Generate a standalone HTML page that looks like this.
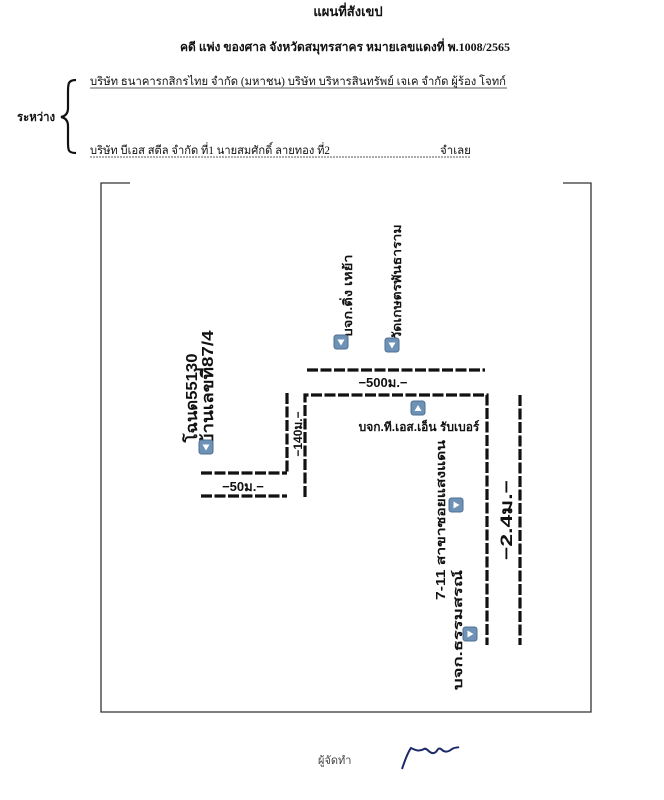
<!DOCTYPE html>
<html><head><meta charset="utf-8">
<style>
html,body{margin:0;padding:0;background:#fff;}
svg{display:block;}
.serif{font-family:"Liberation Serif","Noto Serif CJK SC","Noto Sans CJK SC",serif;}
.sans{font-family:"Liberation Sans","Noto Sans CJK SC",sans-serif;}
</style></head><body>
<svg width="664" height="800" viewBox="0 0 664 800" xmlns="http://www.w3.org/2000/svg">
<defs>
<g id="icD"><rect x="0" y="0" width="14" height="14" rx="2.5" fill="#6e92b6" stroke="#4d6f92" stroke-width="1"/><polygon points="3.5,4.5 10.5,4.5 7,10.5" fill="#fff"/></g>
<g id="icU"><rect x="0" y="0" width="14" height="14" rx="2.5" fill="#6e92b6" stroke="#4d6f92" stroke-width="1"/><polygon points="3.5,10 10.5,10 7,4" fill="#fff"/></g>
<g id="icR"><rect x="0" y="0" width="14" height="14" rx="2.5" fill="#6e92b6" stroke="#4d6f92" stroke-width="1"/><polygon points="4.5,3.5 4.5,10.5 10.5,7" fill="#fff"/></g>
</defs>
<g class="serif" font-weight="bold" fill="#111">
<text x="348" y="16" font-size="13" text-anchor="middle">แผนที่สังเขป</text>
<text x="180" y="51" font-size="12" textLength="330" lengthAdjust="spacing">คดี  แพ่ง  ของศาล  จังหวัดสมุทรสาคร  หมายเลขแดงที่ พ.1008/2565</text>
<text x="17" y="121" font-size="12" textLength="38" lengthAdjust="spacingAndGlyphs">ระหว่าง</text>
</g>
<g class="serif" fill="#111" font-size="11.5">
<text x="90" y="85" textLength="416" lengthAdjust="spacingAndGlyphs">บริษัท ธนาคารกสิกรไทย จำกัด (มหาชน) บริษัท บริหารสินทรัพย์ เจเค จำกัด ผู้ร้อง โจทก์</text>
<line x1="90" y1="88" x2="507" y2="88" stroke="#222" stroke-width="0.8"/>
<text x="90" y="154" textLength="240" lengthAdjust="spacingAndGlyphs">บริษัท บีเอส สตีล จำกัด ที่1 นายสมศักดิ์ ลายทอง ที่2</text>
<text x="440" y="154">จำเลย</text>
<line x1="90" y1="157" x2="470" y2="157" stroke="#222" stroke-width="0.8" stroke-dasharray="2,1"/>
</g>
<path d="M76,80 C68,80 68,84 68,92 L68,108 C68,113 66,116 61,117 C66,118 68,121 68,126 L68,142 C68,150 68,153 76,153" fill="none" stroke="#111" stroke-width="2.2"/>
<g stroke="#333" stroke-width="1.3" fill="none">
<polyline points="130,183 101,183 101,712 591,712 591,183 563,183"/>
</g>
<g stroke="#111" stroke-width="3.2" fill="none" stroke-dasharray="11,2.5">
<line x1="307" y1="370" x2="485" y2="370"/>
<polyline points="305,497 305,395 487,395 487,645"/>
<line x1="287" y1="393" x2="287" y2="473"/>
<line x1="201" y1="473" x2="287" y2="473"/>
<line x1="201" y1="496" x2="287" y2="496"/>
<line x1="520" y1="395" x2="520" y2="645"/>
</g>
<g class="sans" fill="#111" font-weight="bold">
<text x="383" y="387" font-size="13" text-anchor="middle">−500ม.−</text>
<text x="243" y="491" font-size="13" text-anchor="middle">−50ม.−</text>
<text transform="translate(302,434) rotate(-90)" font-size="12" text-anchor="middle">−140ม.−</text>
<text transform="translate(512,520) rotate(-90)" font-size="17" text-anchor="middle" textLength="80" lengthAdjust="spacingAndGlyphs">−2.4ม.−</text>
<text transform="translate(197,398) rotate(-90)" font-size="16" text-anchor="middle" textLength="89" lengthAdjust="spacingAndGlyphs">โฉนด55130</text>
<text transform="translate(213,388) rotate(-90)" font-size="16" text-anchor="middle" textLength="115" lengthAdjust="spacingAndGlyphs">บ้านเลขที่87/4</text>
<text transform="translate(352,296) rotate(-90)" font-size="12" text-anchor="middle" textLength="83" lengthAdjust="spacingAndGlyphs">บจก.ติ่ง เหย้า</text>
<text transform="translate(401,282) rotate(-90)" font-size="12" text-anchor="middle" textLength="115" lengthAdjust="spacingAndGlyphs">วัดเกษตรพันธาราม</text>
<text x="419" y="431" font-size="12" text-anchor="middle">บจก.ที.เอส.เอ็น รับเบอร์</text>
<text transform="translate(445,520) rotate(-90)" font-size="12.5" text-anchor="middle" textLength="160" lengthAdjust="spacingAndGlyphs">7-11 สาขาซอยแสงแดน</text>
<text transform="translate(462,630) rotate(-90)" font-size="12.5" text-anchor="middle" textLength="120" lengthAdjust="spacingAndGlyphs">บจก.ธรรมสรณ์</text>
</g>
<use href="#icD" x="199" y="440"/>
<use href="#icD" x="334" y="335"/>
<use href="#icD" x="385" y="338"/>
<use href="#icU" x="411" y="401"/>
<use href="#icR" x="449" y="498"/>
<use href="#icR" x="463" y="627"/>
<text x="318" y="764" class="sans" font-size="11" fill="#444">ผู้จัดทำ</text>
<path d="M402,769 C405,760 408,752 411,748 C415,750 419,752 424,749 C427,747 429,754 434,753 C438,752 437,747 441,749 C444,752 447,753 452,749 C455,747 457,748 459,747" fill="none" stroke="#1d2a6a" stroke-width="2"/>
</svg>
</body></html>
